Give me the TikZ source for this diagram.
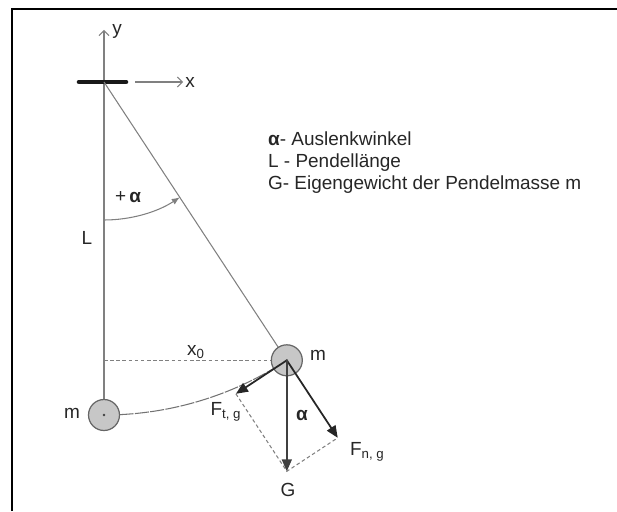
\documentclass[tikz,border=0pt]{standalone}
\usepackage{fontspec}
\setmainfont{Liberation Sans}
\usetikzlibrary{arrows.meta,calc}

\begin{document}
\begin{tikzpicture}[
    x=0.02cm, y=0.02cm,
    every node/.style={font=\fontsize{10.8}{12.5}\selectfont, text=black!85, inner sep=1pt},
    thinline/.style={draw=black!50, line width=0.6pt},
    axis/.style={thinline, -{Straight Barb[length=1mm, width=2mm]}},
    swing/.style={draw=black!55, line width=0.6pt, dash pattern=on 8pt off 0.8pt},
    helper/.style={draw=black!50, line width=0.6pt, dash pattern=on 2pt off 1.5pt},
    force/.style={draw=black!85, line width=1pt, -{Triangle[length=2.4mm, width=2mm]}},
    mass/.style={circle, draw=black!60, line width=0.7pt, fill=black!22, minimum size=6.2mm, inner sep=0pt}
]
\useasboundingbox (0,0) rectangle (617,511);
\draw[line width=1.1pt] (12,0) -- (12,502) -- (617,502);

\coordinate (piv) at (104,429);
\coordinate (cr) at ($(piv)+(-56.7:333)$);
\coordinate (cl) at ($(piv)+(-90:333)$);

% axes and suspension
\draw[axis] (cl) -- (104,481);
\node (ylab) at (117,480) {y};
\draw[axis] (135,429) -- (183,429) node[right] (xlab) {x};
\draw[line width=2.6pt, line cap=round, black!90] (79,429) -- (126,429);

% rod, angle, swing path
\draw[thinline] (piv) -- (cr);
\draw[thinline, -{Latex[length=1.6mm, width=1.3mm]}] ($(piv)+(-90:138)$) arc[start angle=-90, end angle=-56.7, radius=138];
\node (plusalpha) at (128,314) {+\,\textbf{α}};
\node (llab) at (87,273) {L};
\draw[helper] (cr -| piv) -- (cr);
\node (xnull) at (196,159) {x\textsubscript{0}};
\draw[swing] (cl) arc[start angle=-90, end angle=-56.7, radius=333];

% masses
\node[mass] (ml) at (cl) {};
\node[mass] (mr) at (cr) {};
\fill[black!75] (ml.center) circle (1.3);
\fill[black!75] (mr.center) circle (1.3);
\node (mllab) at (72,98) {m};
\node (mrlab) at (318,156) {m};

% forces
\coordinate (gtip) at ($(cr)+(0,-111)$);
\coordinate (fn) at ($(piv)!(gtip)!(cr)$);
\coordinate (ft) at ($(cr)+(gtip)-(fn)$);
\draw[helper] (ft) -- (gtip) -- (fn);
\draw[force] (cr) -- (ft);
\draw[force] (cr) -- (fn);
\draw[force, draw=black!75] (cr) -- (gtip);
\node (glab) at (288,21) {G};
\node (alab) at (302,96) {\textbf{α}};
\node (ftlab) at (226,99) {F\textsubscript{t, g}};
\node[anchor=west] (fnlab) at (348,59) {F\textsubscript{n, g}};

% legend
\node[anchor=west, align=left] (legend) at (266,348) {\textbf{α}- Auslenkwinkel\\L - Pendellänge\\G- Eigengewicht der Pendelmasse m};
\end{tikzpicture}
\end{document}
